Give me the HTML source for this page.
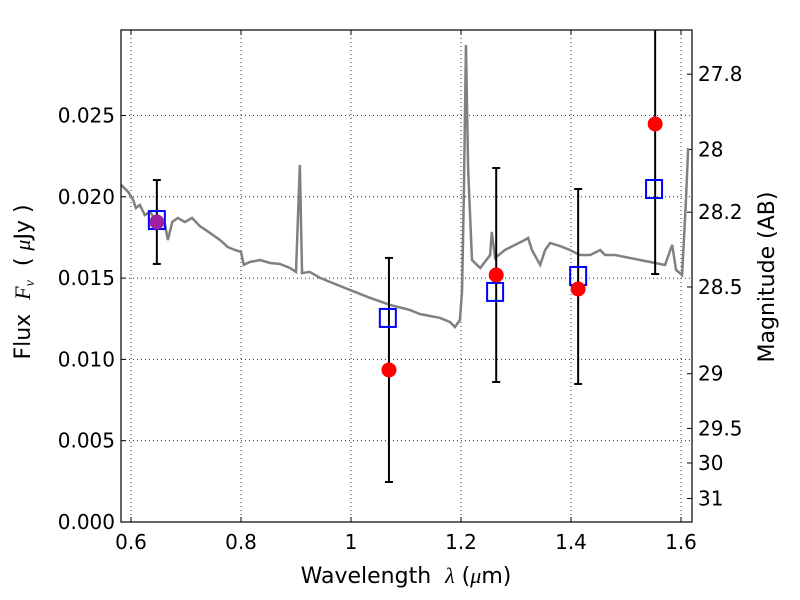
<!DOCTYPE html>
<html><head><meta charset="utf-8"><style>
html,body{margin:0;padding:0;background:#fff;width:800px;height:600px;overflow:hidden}
text{font-family:"DejaVu Sans","Liberation Sans",sans-serif;fill:#000}
</style></head><body>
<svg id="chart" width="800" height="600" xmlns="http://www.w3.org/2000/svg"></svg>
<script>
const specW=[0.582,0.595,0.604,0.609,0.616,0.625,0.635,0.644,0.653,0.662,0.667,0.675,0.685,0.698,0.711,0.725,0.744,0.762,0.776,0.789,0.800,0.805,0.816,0.835,0.853,0.871,0.889,0.900,0.907,0.911,0.925,0.944,0.962,0.998,1.035,1.071,1.107,1.125,1.162,1.180,1.189,1.198,1.202,1.205,1.209,1.213,1.220,1.235,1.253,1.256,1.262,1.280,1.298,1.316,1.322,1.329,1.344,1.353,1.362,1.380,1.398,1.416,1.435,1.453,1.462,1.480,1.507,1.544,1.571,1.584,1.591,1.602,1.609,1.613];
const specF=[.02073,.02030,.01980,.01931,.01950,.01888,.01907,.01857,.01870,.01827,.01734,.01845,.01870,.01845,.01870,.01820,.01777,.01734,.01691,.01673,.01661,.01581,.01599,.01611,.01593,.01587,.01562,.01538,.02196,.01531,.01538,.01501,.01476,.01427,.01378,.01335,.01304,.01279,.01255,.01230,.01199,.01242,.01427,.01980,.02934,.02165,.01611,.01562,.01642,.01784,.01624,.01673,.01704,.01734,.01747,.01673,.01581,.01673,.01716,.01697,.01673,.01642,.01642,.01673,.01642,.01642,.01624,.01599,.01581,.01704,.01550,.01519,.01980,.02300];
const obsW=[0.647,1.069,1.264,1.413,1.553];
const obsF=[0.01845,0.00935,0.01519,0.01433,0.02448];
const errLo=[0.01587,0.00246,0.00861,0.00849,0.01525];
const errHi=[0.02103,0.01624,0.02177,0.02048,0.0340];
const modW=[0.647,1.067,1.262,1.413,1.551];
const modF=[0.01857,0.01255,0.01415,0.01513,0.02048];
const xTicks=[0.6,0.8,1,1.2,1.4,1.6];
const xTickLabels=["0.6","0.8","1","1.2","1.4","1.6"];
const yTicks=[0,0.005,0.01,0.015,0.02,0.025];
const yTickLabels=["0.000","0.005","0.010","0.015","0.020","0.025"];
const magTicks=[27.8,28,28.2,28.5,29,29.5,30,31];
const magLabels=["27.8","28","28.2","28.5","29","29.5","30","31"];

const L=121,R=692,T=30,B=522;
const X=w=>131+(w-0.6)*550;
const Y=f=>B-f*16260;
const ns="http://www.w3.org/2000/svg";
const svg=document.getElementById('chart');
function mk(tag,attrs,parent){const e=document.createElementNS(ns,tag);for(const k in attrs)e.setAttribute(k,attrs[k]);(parent||svg).appendChild(e);return e;}
const defs=mk('defs',{});const cp=mk('clipPath',{id:'clip'},defs);mk('rect',{x:L,y:T,width:R-L,height:B-T},cp);

const grid=mk('g',{});


xTicks.forEach((t,i)=>{
  mk('line',{x1:X(t),x2:X(t),y1:T,y2:B,stroke:'#000','stroke-dasharray':'1,3','stroke-width':0.8},grid);
  mk('line',{x1:X(t),x2:X(t),y1:B,y2:B-5,stroke:'#000'},grid);
  mk('line',{x1:X(t),x2:X(t),y1:T,y2:T+5,stroke:'#000'},grid);
  const tx=mk('text',{x:X(t),y:B+27,'text-anchor':'middle','font-size':20});
  tx.textContent=xTickLabels[i];
  
  
});
yTicks.forEach((t,i)=>{
  mk('line',{x1:L,x2:R,y1:Y(t),y2:Y(t),stroke:'#000','stroke-dasharray':'1,3','stroke-width':0.8},grid);
  mk('line',{x1:L,x2:L+5,y1:Y(t),y2:Y(t),stroke:'#000'},grid);
  const tx=mk('text',{x:L-6,y:Y(t)+7,'text-anchor':'end','font-size':20});
  tx.textContent=yTickLabels[i];
  
  
});
magTicks.forEach((m,i)=>{
  const y=Y(Math.pow(10,(23.9-m)/2.5));
  mk('line',{x1:R,x2:R-5,y1:y,y2:y,stroke:'#000'});
  const tx=mk('text',{x:R+6,y:y+7,'font-size':20});
  tx.textContent=magLabels[i];
  
  
});

const g=mk('g',{'clip-path':'url(#clip)'});
const sp=mk('polyline',{points:specW.map((w,i)=>X(w)+','+Y(specF[i])).join(' '),fill:'none',stroke:'#808080','stroke-width':2.5},g);


obsW.forEach((w,i)=>{
  const x=X(w),y1=Y(errLo[i]),y2=Y(errHi[i]);
  const eb=mk('g',{},g);
  
  
  mk('line',{x1:x,x2:x,y1:y1,y2:y2,stroke:'#000','stroke-width':2},eb);
  mk('line',{x1:x-4,x2:x+4,y1:y1,y2:y1,stroke:'#000','stroke-width':2},eb);
  mk('line',{x1:x-4,x2:x+4,y1:y2,y2:y2,stroke:'#000','stroke-width':2},eb);
});
modW.forEach((w,i)=>{
  const s=mk('rect',{x:X(w)-8,y:Y(modF[i])-9,width:16,height:18,fill:'none',stroke:'#0000ff','stroke-width':2},g);
  
  
});
obsW.forEach((w,i)=>{
  const c=mk('circle',{cx:X(w),cy:Y(obsF[i]),r:7.5,fill:i===0?'#a020a0':'#ff0000'},g);
  
  
});
mk('rect',{x:L,y:T,width:R-L,height:B-T,fill:'none',stroke:'#000','stroke-width':1.2});

const xl=mk('text',{x:406,y:583,'text-anchor':'middle','font-size':22});
xl.innerHTML='Wavelength\u00a0\u00a0<tspan font-style="italic" font-family="Liberation Serif, serif">λ</tspan> (<tspan font-style="italic" font-family="Liberation Serif, serif">μ</tspan>m)';


const yl=mk('text',{x:30,y:282,'text-anchor':'middle','font-size':22,transform:'rotate(-90 30 282)'});
yl.innerHTML='Flux\u00a0\u00a0<tspan font-style="italic" font-family="Liberation Serif, serif">F</tspan><tspan font-size="14" dy="4" font-style="italic" font-family="Liberation Serif, serif">ν</tspan><tspan dy="-4">\u00a0\u00a0(\u00a0<tspan font-style="italic" font-family="Liberation Serif, serif">μ</tspan>Jy\u00a0)</tspan>';


const rl=mk('text',{x:774,y:277,'text-anchor':'middle','font-size':22,transform:'rotate(-90 774 277)'});
rl.textContent='Magnitude (AB)';


</script>
</body></html>
